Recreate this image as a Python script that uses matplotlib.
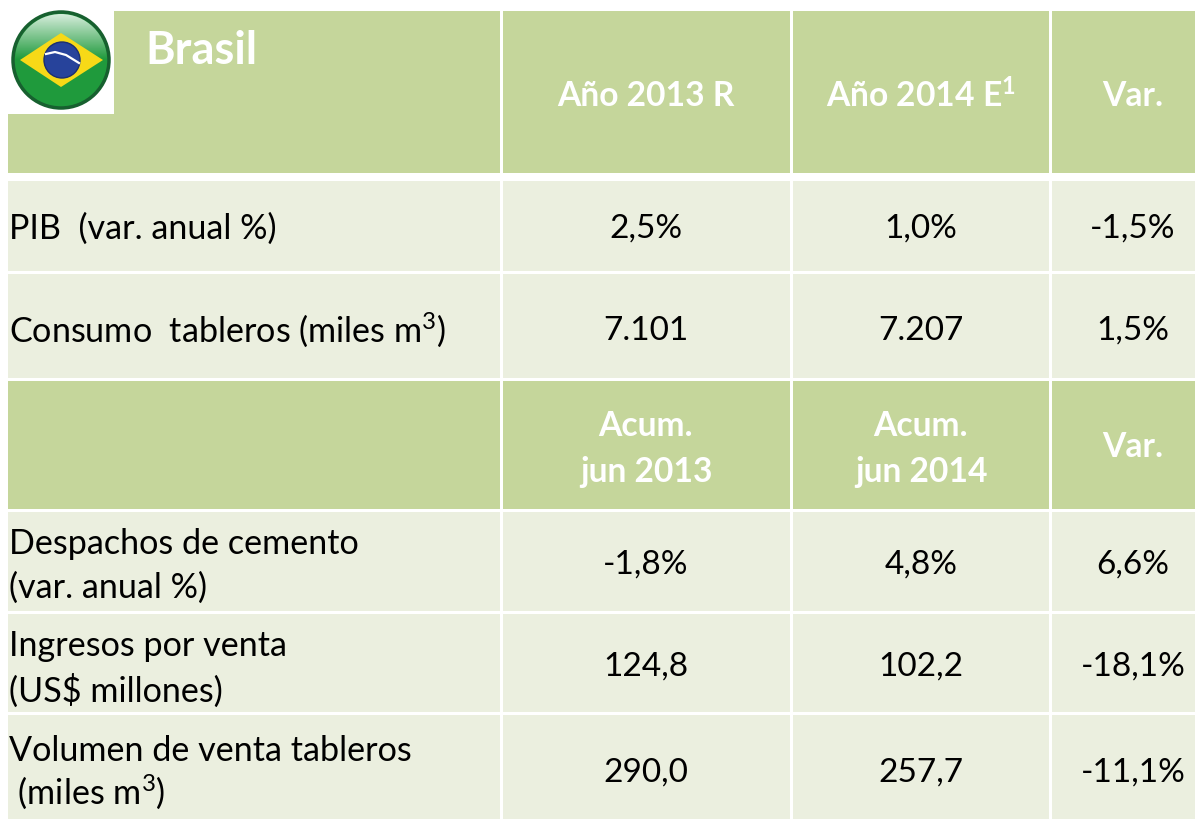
"""Brasil summary table, drawn as patches on a pixel-sized axes."""
import numpy as np
import matplotlib
matplotlib.use('Agg')
import matplotlib.pyplot as plt
from matplotlib.patches import Rectangle, Circle, Polygon

W,H=1195,819
DARK='#c5d69b'; LIGHT='#ebefdf'
plt.rcParams['font.family']=['Lato','DejaVu Sans']
plt.rcParams['mathtext.default']='regular'

title='Brasil'
head1=['Año 2013 R','Año 2014 E$^{1}$','Var.']
head2=['Acum.\njun 2013','Acum.\njun 2014','Var.']
labels1=['PIB  (var. anual %)','Consumo  tableros (miles m$^{3}$)']
vals1=[['2,5%','1,0%','-1,5%'],['7.101','7.207','1,5%']]
labels2=['Despachos de cemento\n(var. anual %)','Ingresos por venta\n(US$ millones)','Volumen de venta tableros\n (miles m$^{3}$)']
vals2=[['-1,8%','4,8%','6,6%'],['124,8','102,2','-18,1%'],['290,0','257,7','-11,1%']]

col_x=[(8,500),(503,790),(793,1049),(1052,1195)]
col_c=[646,921,1133]
rows=[(11,173,DARK),(181,271,LIGHT),(274,378,LIGHT),(381,509,DARK),(512,611,LIGHT),(614,712,LIGHT),(715,819,LIGHT)]

fig=plt.figure(figsize=(W/100,H/100),dpi=100)
ax=fig.add_axes([0,0,1,1]); ax.set_xlim(0,W); ax.set_ylim(H,0); ax.axis('off')

for y0,y1,c in rows:
    for x0,x1 in col_x:
        ax.add_patch(Rectangle((x0,y0),x1-x0,y1-y0,fc=c,ec='none'))

def cells(row_y,texts,**kw):
    for cx,t in zip(col_c,texts):
        ax.text(cx,row_y,t,ha='center',va='center',**kw)

hd=dict(color='white',fontsize=24.2,fontweight='bold',linespacing=1.5)
body=dict(color='black',fontsize=24)
lab=dict(color='black',fontsize=24.6,ha='left',va='center')

# header rows
cells(96,head1,**hd)
ax.text(145,51,title,color='white',fontsize=32.5,fontweight='bold',ha='left',va='center')
for cx,t,yy in zip(col_c,head2,[449,449,447]):
    ax.text(cx,yy,t,ha='center',va='center',**hd)

# body rows
for y,yl,l,v in zip([229,331],[229,330],labels1,vals1):
    ax.text(9,yl,l,linespacing=1.43,**lab); cells(y,v,**body)
# last label has the superscript, which makes its second line taller
for y,yl,ls,l,v in zip([565,667,773],[566,669,773],[1.43,1.43,1.2],labels2,vals2):
    ax.text(9,yl,l,linespacing=ls,**lab); cells(y,v,**body)

# flag badge on white corner
ax.add_patch(Rectangle((6,8),108,106,fc='white',ec='none',zorder=3))
cx,cy,r=61,60,48
ax.add_patch(Circle((cx,cy),r,fc='#1f9a3c',ec='#17602f',lw=2.5,zorder=4))
grad=np.linspace(0.85,0,50)[:,None]
glow=np.ones((50,1,4)); glow[...,3]=grad
im=ax.imshow(glow,extent=(cx-r,cx+r,cy,cy-r),zorder=4.1,aspect='auto')
im.set_clip_path(Circle((cx,cy),r-2,transform=ax.transData))
ax.add_patch(Polygon([(20,60),(61,33),(103,60),(61,87)],fc='#f7d917',ec='none',zorder=5))
ax.add_patch(Circle((62,60),18,fc='#27439b',ec='#1c2f70',lw=1,zorder=6))
ax.plot([46,55,66,79],[54,52,55,63],color='white',lw=1.6,zorder=7)
ax.set_xlim(0,W); ax.set_ylim(H,0)

fig.savefig('out.png',dpi=100)
